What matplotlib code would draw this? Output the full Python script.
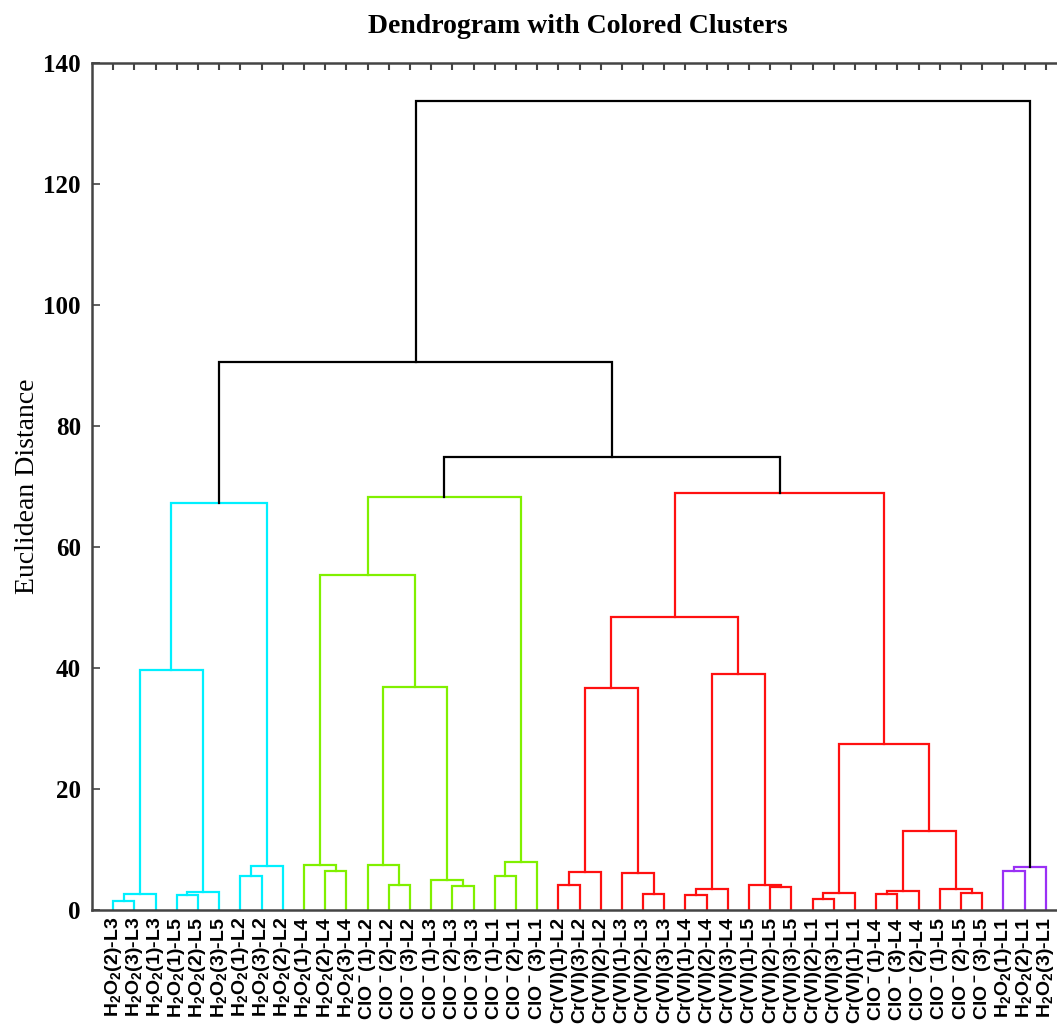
import matplotlib.pyplot as plt

plt.rcParams["mathtext.fontset"] = "custom"
plt.rcParams["mathtext.bf"] = "Liberation Sans:bold"
plt.rcParams["mathtext.rm"] = "Liberation Sans:bold"
plt.rcParams["mathtext.default"] = "bf"

h2o2 = "H$_2$O$_2$"
clo = "ClO$^-$"

# leaves, left to right
leaf_labels = [
    h2o2 + "(2)-L3", h2o2 + "(3)-L3", h2o2 + "(1)-L3",
    h2o2 + "(1)-L5", h2o2 + "(2)-L5", h2o2 + "(3)-L5",
    h2o2 + "(1)-L2", h2o2 + "(3)-L2", h2o2 + "(2)-L2",
    h2o2 + "(1)-L4", h2o2 + "(2)-L4", h2o2 + "(3)-L4",
    clo + "(1)-L2", clo + "(2)-L2", clo + "(3)-L2",
    clo + "(1)-L3", clo + "(2)-L3", clo + "(3)-L3",
    clo + "(1)-L1", clo + "(2)-L1", clo + "(3)-L1",
    "Cr(VI)(1)-L2", "Cr(VI)(3)-L2", "Cr(VI)(2)-L2",
    "Cr(VI)(1)-L3", "Cr(VI)(2)-L3", "Cr(VI)(3)-L3",
    "Cr(VI)(1)-L4", "Cr(VI)(2)-L4", "Cr(VI)(3)-L4",
    "Cr(VI)(1)-L5", "Cr(VI)(2)-L5", "Cr(VI)(3)-L5",
    "Cr(VI)(2)-L1", "Cr(VI)(3)-L1", "Cr(VI)(1)-L1",
    clo + "(1)-L4", clo + "(3)-L4", clo + "(2)-L4",
    clo + "(1)-L5", clo + "(2)-L5", clo + "(3)-L5",
    h2o2 + "(1)-L1", h2o2 + "(2)-L1", h2o2 + "(3)-L1",
]

# linkage: merge k creates node 45 + k from nodes merge_a[k] and merge_b[k]
merge_a = [0, 45, 3, 47, 46, 6, 50, 49,
           10, 9, 13, 12, 16, 15, 56, 54, 18, 61, 60,
           21, 64, 25, 24, 65, 27, 69, 31, 30, 70, 68,
           33, 75, 36, 77, 40, 39, 78, 76, 74,
           63, 52, 42, 86, 85]
merge_b = [1, 2, 4, 5, 48, 7, 8, 51,
           11, 53, 14, 55, 17, 57, 58, 59, 19, 20, 62,
           22, 23, 26, 66, 67, 28, 29, 32, 71, 72, 73,
           34, 35, 37, 38, 41, 79, 80, 81, 82,
           83, 84, 43, 44, 87]
merge_height = [1.5, 2.6, 2.5, 3.0, 39.7, 5.6, 7.3, 67.3,
                6.4, 7.4, 4.2, 7.4, 4.0, 5.0, 36.9, 55.4, 5.6, 8.0, 68.3,
                4.1, 6.3, 2.7, 6.2, 36.7, 2.5, 3.5, 3.9, 4.1, 39.0, 48.4,
                1.9, 2.9, 2.7, 3.2, 2.9, 3.5, 13.1, 27.4, 68.9,
                74.9, 90.6, 6.4, 7.1, 133.7]

cluster_colors = ["#00f0ff", "#80f000", "#ff1010", "#9a30f5"]
color_threshold = 70

n = len(leaf_labels)
pos = {i: i + 1 for i in range(n)}
height = {i: 0.0 for i in range(n)}
children = {}
for k, (a, b, d) in enumerate(zip(merge_a, merge_b, merge_height)):
    node = n + k
    children[node] = (a, b)
    pos[node] = (pos[a] + pos[b]) / 2
    height[node] = d

# colour each sub-tree below the threshold, in leaf order
node_color = {}
root = n + len(merge_height) - 1
next_color = iter(cluster_colors)


def paint(node, color):
    if color is None and height[node] < color_threshold:
        color = next(next_color)
    node_color[node] = color or "black"
    if node in children:
        for c in children[node]:
            paint(c, color)


paint(root, None)

fig = plt.figure(figsize=(10.57, 10.32), dpi=100)
ax = fig.add_axes([0.087, 0.118, 0.9225, 0.821])

for node, (a, b) in children.items():
    ax.plot(
        [pos[a], pos[a], pos[b], pos[b]],
        [height[a], height[node], height[node], height[b]],
        color=node_color[node],
        linewidth=1.6,
        solid_joinstyle="miter",
    )

ax.set_xlim(0, n + 1)
ax.set_ylim(0, 140)

ax.set_xticks(range(1, n + 1))
ax.set_xticklabels(leaf_labels, rotation=90, fontsize=14,
                   fontfamily="Liberation Sans", fontweight="bold")
ax.set_yticks(range(0, 141, 20))
ax.set_yticklabels([str(v) for v in range(0, 141, 20)], fontsize=18,
                   fontfamily="Liberation Serif", fontweight="bold")

ax.tick_params(axis="x", direction="in", top=True, bottom=False,
               length=5, width=1.5, color="#444444", pad=5)
ax.tick_params(axis="y", direction="in", left=True, right=True,
               length=6, width=1.2, color="#444444", pad=8)

for spine in ax.spines.values():
    spine.set_linewidth(1.8)
    spine.set_color("#444444")

ax.set_ylabel("Euclidean Distance", fontsize=20,
              fontfamily="Liberation Serif", labelpad=2)
fig.text(0.547, 0.974, "Dendrogram with Colored Clusters",
         ha="center", va="center", fontsize=20,
         fontfamily="Liberation Serif", fontweight="bold")

fig.savefig("out.png", dpi=100)
